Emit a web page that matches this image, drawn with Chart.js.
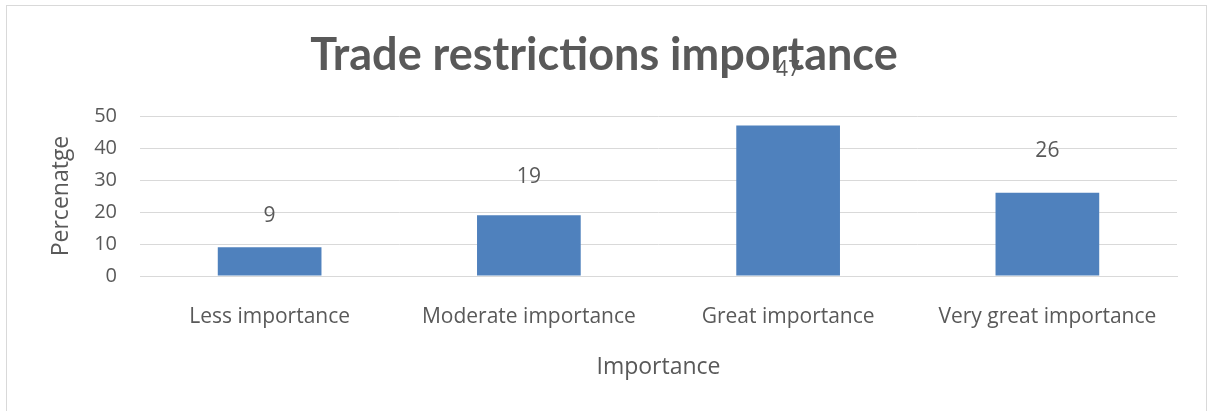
<!DOCTYPE html>
<html>
<head>
<meta charset="utf-8">
<script src="https://cdn.jsdelivr.net/npm/chart.js@4.4.0/dist/chart.umd.min.js"></script>
<style>
  html, body { margin: 0; padding: 0; background: #fff; }
  #wrap { width: 1208px; height: 411px; }
</style>
</head>
<body>
<div id="wrap"><canvas id="chart" width="1208" height="411"></canvas></div>
<script>
// --- data ---
const categories = ["Less importance", "Moderate importance", "Great importance", "Very great importance"];
const percentages = [9, 19, 47, 26];
const yTicks = [0, 10, 20, 30, 40, 50];

const textColor = "#595959";
const gridColor = "#d9d9d9";
const barColor = "#4f81bd";
const fontFamily = "'Open Sans', sans-serif";
const titleFamily = "Lato, 'Open Sans', sans-serif";

// outer frame like the office chart border
const framePlugin = {
  id: "frame",
  beforeDraw(chart) {
    const c = chart.ctx;
    c.save();
    c.fillStyle = "#fff";
    c.fillRect(0, 0, chart.width, chart.height);
    c.strokeStyle = gridColor;
    c.lineWidth = 1;
    c.strokeRect(6.5, 5.5, 1200, 440);
    c.restore();
  }
};

// value labels above the bars (excel puts them a bit higher for taller bars)
const valueLabels = {
  id: "valueLabels",
  afterDatasetsDraw(chart) {
    const c = chart.ctx;
    const y = chart.scales.y;
    const meta = chart.getDatasetMeta(0);
    c.save();
    c.fillStyle = textColor;
    c.font = "21px " + fontFamily;
    c.textAlign = "center";
    c.textBaseline = "middle";
    meta.data.forEach((bar, i) => {
      const v = percentages[i];
      c.fillText(String(v), bar.x, y.getPixelForValue(v * 1.2 + 8));
    });
    c.restore();
  }
};

const ctx = document.getElementById("chart").getContext("2d");

new Chart(ctx, {
  type: "bar",
  data: {
    labels: categories,
    datasets: [{
      data: percentages,
      backgroundColor: barColor,
      barPercentage: 0.4,
      categoryPercentage: 1
    }]
  },
  options: {
    responsive: false,
    animation: false,
    layout: { padding: { left: 31, right: 31, top: 0, bottom: 0 } },
    plugins: {
      legend: { display: false },
      tooltip: { enabled: false },
      title: {
        display: true,
        text: "Trade restrictions importance",
        color: textColor,
        font: { family: titleFamily, size: 45, weight: "bold" },
        padding: { top: 28, bottom: 34 }
      }
    },
    scales: {
      x: {
        grid: { display: false, drawTicks: false },
        border: { display: true, color: gridColor, width: 1 },
        ticks: { color: textColor, font: { family: fontFamily, size: 21 }, padding: 28 },
        title: {
          display: true,
          text: "Importance",
          color: textColor,
          font: { family: fontFamily, size: 23 },
          padding: { top: 0, bottom: 30 }
        },
        afterFit(scale) { scale.height = 135; }
      },
      y: {
        min: 0,
        max: 50,
        afterBuildTicks(scale) { scale.ticks = yTicks.map(v => ({ value: v })); },
        grid: { color: gridColor, drawTicks: false },
        border: { display: false },
        ticks: { color: textColor, font: { family: fontFamily, size: 20 }, padding: 23 },
        title: {
          display: true,
          text: "Percenatge",
          color: textColor,
          font: { family: fontFamily, size: 23 },
          padding: { top: 17, bottom: 0 }
        },
        afterFit(scale) { scale.width = 109; }
      }
    }
  },
  plugins: [framePlugin, valueLabels]
});
</script>
</body>
</html>
